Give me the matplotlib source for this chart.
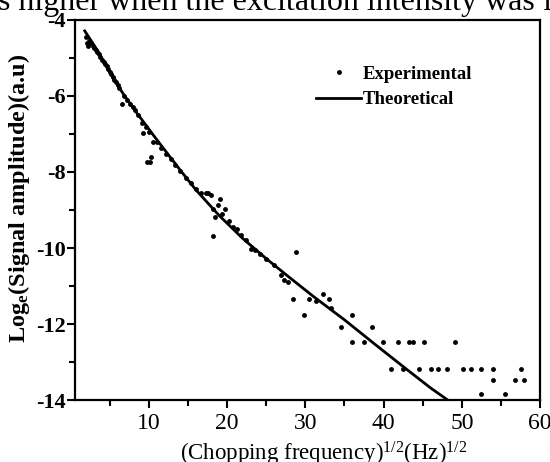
import matplotlib
matplotlib.use("Agg")
import matplotlib.pyplot as plt

plt.rcParams['font.family'] = ['Liberation Serif', 'DejaVu Serif']
plt.rcParams['mathtext.default'] = 'regular'
plt.rcParams['axes.unicode_minus'] = False

# theoretical curve, read as (sqrt f, ln amplitude) pairs
theo_x = [1.8, 3.5, 5.0, 6.7, 8.5, 11.0, 14.0, 16.0, 19.0, 22.0, 25.0,
          28.0, 31.0, 35.0, 39.0, 43.0, 46.0, 48.2]
theo_y = [-4.29, -4.83, -5.38, -5.94, -6.46, -7.15, -7.95, -8.47, -9.15,
          -9.75, -10.28, -10.78, -11.27, -11.89, -12.55, -13.2, -13.68, -14.0]

# measured points
exp_x = [2.0, 2.1, 2.2, 2.4, 2.6, 2.8, 3.0, 3.2, 3.4, 3.6, 3.8, 4.0, 4.2,
         4.4, 4.6, 4.8, 5.0, 5.2, 5.4, 5.6, 5.8, 6.0, 6.2, 6.5, 6.8, 7.2,
         7.6, 8.0, 8.2, 8.6, 9.07, 9.28, 9.7, 10.1, 10.26, 9.6, 10.0, 10.55,
         11.0, 11.6, 12.2, 12.8, 13.4, 14.0, 14.8, 15.4, 16.0, 16.6, 17.3,
         17.6, 17.9, 18.2, 18.5, 18.2, 18.8, 19.05, 19.7, 19.4, 20.2, 20.8,
         21.3, 21.8, 22.4, 23.1, 23.5, 24.2, 25.0, 26.0, 26.9, 27.3, 27.8,
         28.8, 28.4, 29.8, 30.5, 31.4, 32.2, 33.0, 33.3, 34.5, 36.0, 38.5,
         36.0, 37.5, 39.9, 41.8, 43.2, 43.8, 45.2, 49.1,
         41.0, 42.5, 44.5, 46.1, 47.0, 48.05, 50.1, 51.2, 52.4, 54.0, 57.6,
         54.0, 56.8, 58.0, 52.5, 55.5]
exp_y = [-4.45, -4.6, -4.7, -4.55, -4.62, -4.7, -4.75, -4.8, -4.85, -4.9,
         -4.98, -5.05, -5.1, -5.17, -5.22, -5.3, -5.36, -5.42, -5.5, -5.57,
         -5.64, -5.72, -5.8, -6.22, -6.0, -6.1, -6.2, -6.3, -6.37, -6.5,
         -6.72, -6.98, -7.73, -7.73, -7.6, -6.82, -6.95, -7.2, -7.2, -7.38,
         -7.53, -7.67, -7.82, -7.97, -8.17, -8.3, -8.45, -8.56, -8.56, -8.56,
         -8.6, -8.98, -9.19, -9.68, -8.87, -8.72, -8.98, -9.1, -9.3, -9.45,
         -9.5, -9.65, -9.8, -10.03, -10.05, -10.15, -10.3, -10.45, -10.71,
         -10.84, -10.89, -10.11, -11.35, -11.76, -11.35, -11.4, -11.21, -11.35,
         -11.59, -12.07, -11.76, -12.07,
         -12.46, -12.46, -12.46, -12.46, -12.46, -12.46, -12.46, -12.46,
         -13.17, -13.17, -13.17, -13.17, -13.17, -13.17, -13.17, -13.17,
         -13.17, -13.17, -13.17,
         -13.47, -13.47, -13.47, -13.85, -13.85]

x_ticks = [10, 20, 30, 40, 50, 60]
y_ticks = [-14, -12, -10, -8, -6, -4]

fig = plt.figure(figsize=(5.5, 4.62), dpi=100)
ax = fig.add_axes([0.137, 0.134, 0.845, 0.823])

ax.plot(exp_x, exp_y, 'o', color='black', ms=3.5, mew=0, label='Experimental')
ax.plot(theo_x, theo_y, '-', color='black', lw=2.0, label='Theoretical')

ax.set_xlim(0.6, 60)
ax.set_ylim(-14, -4)
ax.set_xticks(x_ticks)
ax.set_yticks(y_ticks)
ax.set_xticks([5, 15, 25, 35, 45, 55], minor=True)
ax.set_yticks([-13, -11, -9, -7, -5], minor=True)
ax.tick_params(which='major', direction='out', length=6, width=1.5,
               top=False, right=False)
ax.tick_params(which='minor', direction='out', length=4, width=1.5,
               top=False, right=False)
for lab in ax.get_yticklabels():
    lab.set_fontweight('bold')
    lab.set_fontsize(16)
for lab in ax.get_xticklabels():
    lab.set_fontsize(17)
ax.tick_params(axis='y', pad=1)
ax.tick_params(axis='x', pad=3)
for sp in ax.spines.values():
    sp.set_linewidth(1.6)

ax.set_xlabel(r'(Chopping frequency)$^{1/2}$(Hz)$^{1/2}$', fontsize=16.5)
ax.xaxis.set_label_coords(0.535, -0.105)
ax.set_ylabel(r'Log$_{e}$(Signal amplitude)(a.u)', fontsize=17.5,
              fontweight='bold')
ax.yaxis.set_label_coords(-0.093, 0.532)

ax.legend(loc='upper left', bbox_to_anchor=(0.518, 0.88), frameon=False,
          prop={'weight': 'bold', 'size': 13.5}, handlelength=2.4,
          handletextpad=0.1, labelspacing=0.45, borderpad=0,
          borderaxespad=0)

fig.text(-0.003, 0.979, 's higher when the excitation intensity was f',
         fontsize=23, ha='left', va='baseline')

fig.savefig('out.png', dpi=100)
